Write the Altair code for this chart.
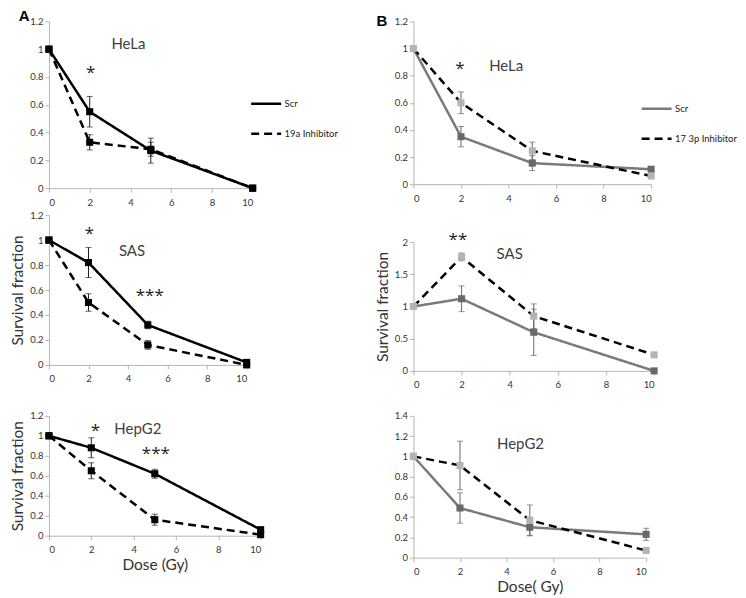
import altair as alt
import pandas as pd

doses = [0, 2, 5, 10]
x_ticks = [0, 2, 4, 6, 8, 10]

# ---- Panel A : Scr vs 19a Inhibitor ----
a_groups = ["Scr", "19a Inhibitor"]
a_hela_scr = [1.0, 0.55, 0.27, 0.0]
a_hela_scr_err = [0.0, 0.11, 0.09, 0.0]
a_hela_inh = [1.0, 0.33, 0.28, 0.0]
a_hela_inh_err = [0.0, 0.055, 0.05, 0.0]

a_sas_scr = [1.0, 0.82, 0.32, 0.02]
a_sas_scr_err = [0.0, 0.12, 0.03, 0.0]
a_sas_inh = [1.0, 0.50, 0.16, 0.0]
a_sas_inh_err = [0.0, 0.07, 0.035, 0.0]

a_hep_scr = [1.0, 0.88, 0.62, 0.06]
a_hep_scr_err = [0.0, 0.10, 0.045, 0.01]
a_hep_inh = [1.0, 0.65, 0.16, 0.01]
a_hep_inh_err = [0.0, 0.08, 0.055, 0.0]

# ---- Panel B : Scr vs 17 3p Inhibitor ----
b_groups = ["Scr", "17 3p Inhibitor"]
b_hela_scr = [1.0, 0.35, 0.155, 0.11]
b_hela_scr_err = [0.0, 0.075, 0.055, 0.0]
b_hela_inh = [1.0, 0.60, 0.245, 0.06]
b_hela_inh_err = [0.0, 0.08, 0.065, 0.0]

b_sas_scr = [1.0, 1.12, 0.60, 0.0]
b_sas_scr_err = [0.0, 0.20, 0.36, 0.0]
b_sas_inh = [1.0, 1.77, 0.85, 0.25]
b_sas_inh_err = [0.0, 0.06, 0.19, 0.03]

b_hep_scr = [1.0, 0.49, 0.30, 0.23]
b_hep_scr_err = [0.0, 0.15, 0.085, 0.06]
b_hep_inh = [1.0, 0.91, 0.37, 0.07]
b_hep_inh_err = [0.0, 0.24, 0.15, 0.0]

# annotations: (kind, text, x, y)
a_hela_ann = [("letter", "A", -1.22, 1.24), ("name", "HeLa", 3.9, 1.04), ("star", "*", 2.05, 0.83)]
a_sas_ann = [("name", "SAS", 4.2, 0.91), ("star", "*", 2.05, 1.05), ("star", "***", 5.1, 0.55)]
a_hep_ann = [("name", "HepG2", 4.2, 1.07), ("star", "*", 2.2, 1.05), ("star", "***", 5.05, 0.82)]
b_hela_ann = [("letter", "B", -1.33, 1.2), ("name", "HeLa", 3.9, 0.87), ("star", "*", 1.96, 0.85)]
b_sas_ann = [("name", "SAS", 4.0, 1.82), ("star", "**", 1.85, 2.03)]
b_hep_ann = [("name", "HepG2", 4.6, 1.12)]

FONT = "Lato"
AXIS_GRAY = "#b5b5b5"


def make_df(groups, scr, scr_err, inh, inh_err):
    rows = []
    for g, m, e in ((groups[0], scr, scr_err), (groups[1], inh, inh_err)):
        for d, v, s in zip(doses, m, e):
            rows.append({"group": g, "dose": d, "mean": v, "lo": v - s, "hi": v + s})
    return pd.DataFrame(rows)


def panel(df, ann, groups, line_colors, sq_colors, err_color, ydom, yvals, w, h,
          ytitle=None, xtitle=None, legend=None):
    base = alt.Chart(df)
    xs = alt.Scale(domain=[0, 10], nice=False)
    ys = alt.Scale(domain=ydom, nice=False)
    xaxis = alt.Axis(values=x_ticks, title=xtitle, grid=False, domainColor=AXIS_GRAY,
                     tickColor=AXIS_GRAY, tickSize=4, labelFontSize=9.5, labelColor="#333",
                     labelFont=FONT, labelPadding=5, titleFont=FONT, titleFontSize=15.5,
                     titleFontWeight="normal", titleColor="#333", titlePadding=3)
    yaxis = alt.Axis(values=yvals, format="~g", title=ytitle, grid=False, domainColor=AXIS_GRAY,
                     tickColor=AXIS_GRAY, tickSize=4, labelFontSize=9.5, labelColor="#333",
                     labelFont=FONT, labelPadding=2, titleFont=FONT, titleFontSize=15.5,
                     titleFontWeight="normal", titleColor="#333", titlePadding=4)
    X = lambda f: alt.X(f, scale=xs, axis=xaxis)
    Y = lambda f: alt.Y(f, scale=ys, axis=yaxis)
    if legend is None:
        leg = None
    else:
        leg = alt.Legend(orient="none", legendX=legend[0], legendY=legend[1], title=None,
                         symbolType="stroke", symbolSize=900, symbolStrokeWidth=2.5,
                         labelFontSize=9.5, labelFont=FONT, labelColor="#222",
                         rowPadding=8, labelOffset=2, padding=0)
    line = base.mark_line(strokeWidth=2.5).encode(
        x=X("dose:Q"),
        y=Y("mean:Q"),
        color=alt.Color("group:N", scale=alt.Scale(domain=groups, range=line_colors), legend=leg),
        strokeDash=alt.StrokeDash("group:N", scale=alt.Scale(domain=groups, range=[[1, 0], [8, 5]]),
                                  legend=leg),
    )
    err = base.mark_errorbar(ticks=True, size=6, thickness=1, color=err_color).encode(
        x=X("dose:Q"),
        y=Y("lo:Q"),
        y2="hi:Q",
    )
    layers = [line, err]
    for g, c in zip(groups, sq_colors):
        layers.append(
            base.transform_filter(alt.datum.group == g).mark_square(size=50, opacity=1, color=c).encode(
                x=X("dose:Q"), y=Y("mean:Q"),
            )
        )
    adf = pd.DataFrame(ann, columns=["kind", "label", "ax", "ay"])
    styles = {
        "name": dict(font=FONT, fontSize=15, color="#404040"),
        "star": dict(font="Open Sans", fontSize=17, color="#222222"),
        "letter": dict(font="Liberation Sans", fontSize=15, fontWeight="bold", color="#000000"),
    }
    for kind, st in styles.items():
        if (adf["kind"] == kind).any():
            layers.append(
                alt.Chart(adf).transform_filter(alt.datum.kind == kind).mark_text(
                    baseline="middle", **st).encode(
                    x=X("ax:Q"), y=Y("ay:Q"), text="label:N")
            )
    return alt.layer(*layers).properties(width=w, height=h)


A_LINES = ["#000000", "#000000"]
A_SQ = ["#000000", "#000000"]
B_LINES = ["#7a7a7a", "#000000"]
B_SQ = ["#686868", "#b4b4b4"]
y12 = [0, 0.2, 0.4, 0.6, 0.8, 1, 1.2]

a1 = panel(make_df(a_groups, a_hela_scr, a_hela_scr_err, a_hela_inh, a_hela_inh_err), a_hela_ann,
           a_groups, A_LINES, A_SQ, "#222", [0, 1.2], y12, 204, 167, legend=(201, 66))
a2 = panel(make_df(a_groups, a_sas_scr, a_sas_scr_err, a_sas_inh, a_sas_inh_err), a_sas_ann,
           a_groups, A_LINES, A_SQ, "#222", [0, 1.2], y12, 198, 150, ytitle="Survival fraction")
a3 = panel(make_df(a_groups, a_hep_scr, a_hep_scr_err, a_hep_inh, a_hep_inh_err), a_hep_ann,
           a_groups, A_LINES, A_SQ, "#222", [0, 1.2], y12, 212, 120, ytitle="Survival fraction",
           xtitle="Dose (Gy)")

b1 = panel(make_df(b_groups, b_hela_scr, b_hela_scr_err, b_hela_inh, b_hela_inh_err), b_hela_ann,
           b_groups, B_LINES, B_SQ, "#666", [0, 1.2], y12, 238, 163, legend=(227, 71))
b2 = panel(make_df(b_groups, b_sas_scr, b_sas_scr_err, b_sas_inh, b_sas_inh_err), b_sas_ann,
           b_groups, B_LINES, B_SQ, "#666", [0, 2], [0, 0.5, 1, 1.5, 2], 241, 129,
           ytitle="Survival fraction")
b3 = panel(make_df(b_groups, b_hep_scr, b_hep_scr_err, b_hep_inh, b_hep_inh_err), b_hep_ann,
           b_groups, B_LINES, B_SQ, "#666", [0, 1.4], [0, 0.2, 0.4, 0.6, 0.8, 1, 1.2, 1.4], 233, 142,
           xtitle="Dose( Gy)")

res = dict(x="independent", y="independent", color="independent", strokeDash="independent")
colA = alt.vconcat(alt.vconcat(a1, a2, spacing=3).resolve_scale(**res), a3, spacing=27).resolve_scale(**res)
colB = alt.vconcat(alt.vconcat(b1, b2, spacing=28).resolve_scale(**res), b3, spacing=21).resolve_scale(**res)

chart = alt.hconcat(colA, colB, spacing=36).resolve_scale(**res).properties(
    padding={"left": 2, "top": 0, "right": 0, "bottom": 0}, background="white"
).configure_view(stroke=None)

chart.save("out.html", embed_options={"renderer": "svg", "actions": False})
